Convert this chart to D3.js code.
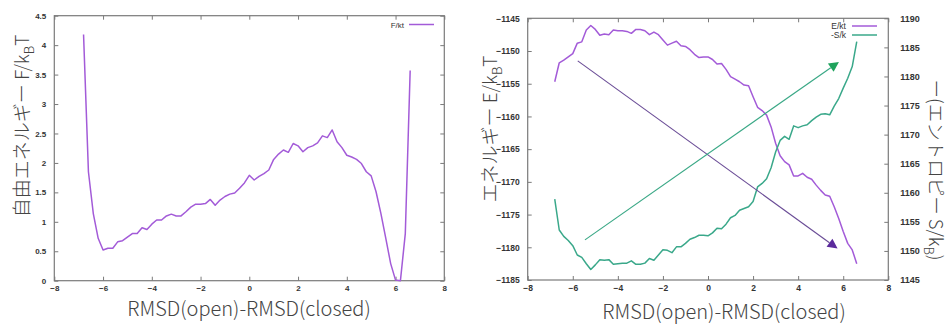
<!DOCTYPE html>
<html><head><meta charset="utf-8">
<script src="https://cdn.jsdelivr.net/npm/d3@7"></script>
<style>
html,body{margin:0;padding:0;background:#fff;}
svg{display:block;}
.tick text{font-family:"Liberation Sans",Arial,sans-serif;}
</style></head>
<body>
<svg id="chart" width="949" height="325"></svg>
<script>
// ---------- data ----------
const xValues = [-6.8,-6.6,-6.4,-6.2,-6.0,-5.8,-5.6,-5.4,-5.2,-5.0,-4.8,-4.6,-4.4,-4.2,-4.0,-3.8,-3.6,-3.4,-3.2,-3.0,-2.8,-2.6,-2.4,-2.2,-2.0,-1.8,-1.6,-1.4,-1.2,-1.0,-0.8,-0.6,-0.4,-0.2,0.0,0.2,0.4,0.6,0.8,1.0,1.2,1.4,1.6,1.8,2.0,2.2,2.4,2.6,2.8,3.0,3.2,3.4,3.6,3.8,4.0,4.2,4.4,4.6,4.8,5.0,5.2,5.4,5.6,5.8,6.0,6.2,6.4,6.6];
const freeEnergy = [4.18,1.85,1.14,0.72,0.52,0.55,0.55,0.66,0.68,0.74,0.80,0.80,0.90,0.87,0.96,1.03,1.03,1.10,1.13,1.10,1.10,1.17,1.25,1.30,1.30,1.31,1.38,1.28,1.37,1.43,1.47,1.49,1.57,1.66,1.79,1.71,1.77,1.82,1.88,2.06,2.15,2.22,2.18,2.33,2.29,2.19,2.26,2.29,2.34,2.46,2.43,2.56,2.36,2.26,2.13,2.10,2.06,1.99,1.85,1.78,1.51,1.14,0.72,0.29,0.01,0.0,0.80,3.57];
const energy = [-1154.7,-1151.8,-1151.4,-1150.9,-1150.4,-1148.8,-1148.6,-1146.8,-1146.1,-1146.7,-1147.6,-1147.4,-1147.5,-1146.8,-1146.9,-1146.9,-1147.0,-1147.3,-1146.7,-1146.7,-1146.9,-1147.5,-1147.1,-1147.5,-1148.3,-1149.1,-1148.8,-1148.5,-1149.2,-1149.3,-1149.8,-1150.5,-1151.0,-1150.9,-1150.9,-1151.3,-1152.0,-1151.9,-1152.8,-1153.9,-1154.3,-1154.7,-1155.2,-1155.3,-1157.0,-1158.6,-1159.1,-1159.8,-1161.6,-1164.1,-1166.0,-1166.9,-1167.4,-1169.1,-1169.1,-1168.7,-1169.3,-1169.6,-1170.5,-1171.3,-1172.0,-1172.2,-1173.8,-1175.6,-1177.6,-1179.4,-1180.4,-1182.5];
const negEntropy = [1158.9,1153.6,1152.5,1151.8,1150.9,1149.3,1148.9,1147.8,1146.8,1147.6,1148.5,1148.4,1148.5,1147.7,1147.8,1147.9,1147.9,1148.3,1147.7,1147.7,1147.9,1148.7,1148.4,1149.3,1150.2,1150.1,1149.7,1150.7,1150.7,1151.3,1152.0,1152.3,1152.7,1152.7,1152.6,1153.1,1153.9,1153.8,1154.6,1155.7,1156.1,1157.0,1157.3,1157.6,1158.5,1161.0,1161.6,1162.4,1164.3,1167.0,1169.0,1169.7,1169.2,1171.5,1171.2,1171.5,1171.7,1172.4,1173.0,1173.5,1173.6,1173.4,1174.9,1176.2,1178.0,1179.7,1181.7,1186.0];
const xTicks = [-8,-6,-4,-2,0,2,4,6,8];
const fTicks = [0,0.5,1,1.5,2,2.5,3,3.5,4,4.5];
const eTicks = [-1185,-1180,-1175,-1170,-1165,-1160,-1155,-1150,-1145];
const sTicks = [1145,1150,1155,1160,1165,1170,1175,1180,1185,1190];
// arrows: [x0, y0, x1, y1]
const energyArrow = [-5.78, -1151.5, 5.75, -1180.2];   // on left (E) axis
const entropyArrow = [-5.46, 1151.9, 5.81, 1182.5];    // on right (-S) axis

// ---------- styles ----------
const purple = "#a35bd8", green = "#3aa88a";
const frameCol = "#7a7a7a", tickTxt = "#333";
const titleFont = '"Noto Sans CJK JP","Noto Sans",sans-serif';
const titleCol = "#444";

const svg = d3.select("#chart");

function frameAndTicks(g, x, y, y2, yTickVals, y2TickVals, yFmt, y2Fmt, fs, fs2) {
  const [x0, x1] = x.range(); const [yb, yt] = y.range();
  g.append("rect").attr("x", x0).attr("y", yt).attr("width", x1 - x0).attr("height", yb - yt)
    .attr("fill", "none").attr("stroke", frameCol).attr("stroke-width", 1.2);
  const tl = 4;
  const xb = g.append("g").attr("transform", `translate(0,${yb})`)
    .call(d3.axisBottom(x).tickValues(xTicks).tickSize(-tl).tickPadding(5).tickFormat(d3.format("d")));
  xb.select(".domain").remove();
  xb.selectAll("line").attr("stroke", frameCol);
  xb.selectAll("text").attr("font-size", fs).attr("fill", tickTxt).attr("font-weight", "bold");
  const xt = g.append("g").attr("transform", `translate(0,${yt})`)
    .call(d3.axisTop(x).tickValues(xTicks).tickSize(-tl).tickFormat(""));
  xt.select(".domain").remove(); xt.selectAll("line").attr("stroke", frameCol);
  const yl = g.append("g").attr("transform", `translate(${x0},0)`)
    .call(d3.axisLeft(y).tickValues(yTickVals).tickSize(-tl).tickPadding(8).tickFormat(yFmt));
  yl.select(".domain").remove(); yl.selectAll("line").attr("stroke", frameCol);
  yl.selectAll("text").attr("font-size", fs).attr("fill", tickTxt).attr("font-weight", "bold");
  if (y2) {
    const yr = g.append("g").attr("transform", `translate(${x1},0)`)
      .call(d3.axisRight(y2).tickValues(y2TickVals).tickSize(-tl).tickPadding(12).tickFormat(y2Fmt));
    yr.select(".domain").remove(); yr.selectAll("line").attr("stroke", frameCol);
    yr.selectAll("text").attr("font-size", fs2).attr("fill", tickTxt).attr("font-weight", "bold");
  } else {
    const yr = g.append("g").attr("transform", `translate(${x1},0)`)
      .call(d3.axisRight(y).tickValues(yTickVals).tickSize(-tl).tickFormat(""));
    yr.select(".domain").remove(); yr.selectAll("line").attr("stroke", frameCol);
  }
}

// ---------- left chart ----------
{
  const g = svg.append("g");
  const x = d3.scaleLinear().domain([-8, 8]).range([54.3, 444.3]);
  const y = d3.scaleLinear().domain([0, 4.5]).range([280.7, 15.7]);
  frameAndTicks(g, x, y, null, fTicks, null, d3.format("~g"), null, 8, 8);
  const line = d3.line().x((d, i) => x(xValues[i])).y(d => y(d));
  g.append("path").datum(freeEnergy).attr("d", line).attr("fill", "none")
    .attr("stroke", purple).attr("stroke-width", 1.5).attr("stroke-linejoin", "round");
  g.append("text").attr("x", 404).attr("y", 27.5).attr("text-anchor", "end")
    .attr("font-family", '"Liberation Sans",Arial,sans-serif').attr("font-size", 8).attr("fill", tickTxt).text("F/kt");
  g.append("line").attr("x1", 409).attr("x2", 434).attr("y1", 24.5).attr("y2", 24.5)
    .attr("stroke", purple).attr("stroke-width", 1.5);
  g.append("text").attr("x", 249).attr("y", 316).attr("text-anchor", "middle")
    .attr("font-family", titleFont).attr("font-weight", 300).attr("font-size", 20).attr("fill", titleCol).text("RMSD(open)-RMSD(closed)");
  const t = g.append("text").attr("transform", "translate(29,126) rotate(-90)").attr("text-anchor", "middle")
    .attr("font-family", titleFont).attr("font-weight", 300).attr("font-size", 19).attr("fill", titleCol);
  t.append("tspan").text("自由エネルギー F/k");
  t.append("tspan").attr("dy", 5).attr("font-size", 13).text("B");
  t.append("tspan").attr("dy", -5).text("T");
}

// ---------- right chart ----------
{
  const g = svg.append("g");
  const x = d3.scaleLinear().domain([-8, 8]).range([527.7, 888.3]);
  const y = d3.scaleLinear().domain([-1185, -1145]).range([280, 18.3]);
  const y2 = d3.scaleLinear().domain([1145, 1190]).range([280, 18.3]);
  frameAndTicks(g, x, y, y2, eTicks, sTicks, d3.format("d"), d3.format("d"), 8.5, 9);
  const lineE = d3.line().x((d, i) => x(xValues[i])).y(d => y(d));
  const lineS = d3.line().x((d, i) => x(xValues[i])).y(d => y2(d));
  g.append("path").datum(energy).attr("d", lineE).attr("fill", "none")
    .attr("stroke", purple).attr("stroke-width", 1.5).attr("stroke-linejoin", "round");
  g.append("path").datum(negEntropy).attr("d", lineS).attr("fill", "none")
    .attr("stroke", green).attr("stroke-width", 1.5).attr("stroke-linejoin", "round");

  function arrow(a, ys, lineCol, headCol, lw) {
    const p0 = [x(a[0]), ys(a[1])], p1 = [x(a[2]), ys(a[3])];
    const dx = p1[0] - p0[0], dy = p1[1] - p0[1], L = Math.hypot(dx, dy);
    const ux = dx / L, uy = dy / L, hl = 10, hw = 5;
    const bx = p1[0] - ux * hl, by = p1[1] - uy * hl;
    g.append("line").attr("x1", p0[0]).attr("y1", p0[1]).attr("x2", bx).attr("y2", by)
      .attr("stroke", lineCol).attr("stroke-width", lw);
    g.append("polygon").attr("points", [
      [p1[0], p1[1]], [bx - uy * hw, by + ux * hw], [bx + uy * hw, by - ux * hw]
    ].map(p => p.join(",")).join(" ")).attr("fill", headCol);
  }
  arrow(energyArrow, y, "#6a4c96", "#5b2a9c", 1.1);
  arrow(entropyArrow, y2, "#3aa886", "#1fa35c", 1.2);

  const lf = '"Liberation Sans",Arial,sans-serif';
  g.append("text").attr("x", 846).attr("y", 29).attr("text-anchor", "end")
    .attr("font-family", lf).attr("font-size", 8.5).attr("fill", tickTxt).text("E/kt");
  g.append("line").attr("x1", 852).attr("x2", 877).attr("y1", 26).attr("y2", 26)
    .attr("stroke", purple).attr("stroke-width", 1.5);
  g.append("text").attr("x", 846).attr("y", 38).attr("text-anchor", "end")
    .attr("font-family", lf).attr("font-size", 8.5).attr("fill", tickTxt).text("-S/k");
  g.append("line").attr("x1", 852).attr("x2", 877).attr("y1", 35).attr("y2", 35)
    .attr("stroke", green).attr("stroke-width", 1.5);

  g.append("text").attr("x", 724).attr("y", 318.5).attr("text-anchor", "middle")
    .attr("font-family", titleFont).attr("font-weight", 300).attr("font-size", 20).attr("fill", titleCol).text("RMSD(open)-RMSD(closed)");
  const t = g.append("text").attr("transform", "translate(497,129) rotate(-90)").attr("text-anchor", "middle")
    .attr("font-family", titleFont).attr("font-weight", 300).attr("font-size", 19).attr("fill", titleCol);
  t.append("tspan").text("エネルギー E/k");
  t.append("tspan").attr("dy", 5).attr("font-size", 13).text("B");
  t.append("tspan").attr("dy", -5).text("T");
  const t2 = g.append("text").attr("transform", "translate(929,170) rotate(90)").attr("text-anchor", "middle")
    .attr("font-family", titleFont).attr("font-weight", 300).attr("font-size", 18.5).attr("fill", titleCol);
  t2.append("tspan").text("ー(エントロピー S/k");
  t2.append("tspan").attr("dy", 5).attr("font-size", 13).text("B");
  t2.append("tspan").attr("dy", -5).text(")");
}
</script>
</body></html>
